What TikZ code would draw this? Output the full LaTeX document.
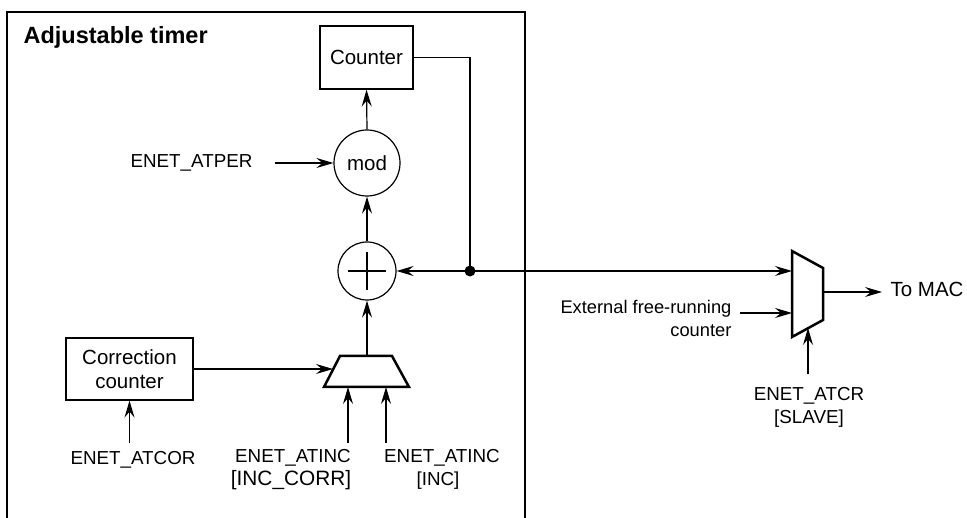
\documentclass[tikz,border=0pt]{standalone}
\usepackage{fontspec}
\setmainfont{Liberation Sans}
\usetikzlibrary{arrows.meta}
\begin{document}
\begin{tikzpicture}[x=1pt,y=-1pt,
  line width=1.2pt,
  arr/.style={-{Stealth[length=17pt,width=10pt,inset=6pt]}},
  lbl/.style={font=\fontsize{18.8}{22}\selectfont, inner sep=0pt, align=center},
  boxtxt/.style={font=\fontsize{20.5}{23}\selectfont},
  box/.style={draw, line width=1.2pt, inner sep=0pt, align=center, boxtxt},
  circ/.style={draw, circle, line width=1.2pt, inner sep=0pt, boxtxt},
  mux/.style={line width=2.5pt, line join=miter}
]
\useasboundingbox (0,0) rectangle (967,518);
% outer frame
\draw (7,518) -- (7,12) -- (525,12) -- (525,518);
\node[anchor=base west, inner sep=0pt, font=\fontsize{23.5}{26}\selectfont\bfseries] (title) at (23,44) {Adjustable timer};

% main blocks
\node[box, minimum width=93pt, minimum height=63pt] (counter) at (366.5,57.5) {Counter};
\node[circ, minimum size=66pt] (mod) at (367,163) {mod};
\node[circ, minimum size=58pt] (plus) at (367,271) {};
\draw (plus.center) ++(-19,0) -- ++(38,0);
\draw (plus.center) ++(0,-19) -- ++(0,38);
\node[box, minimum width=127pt, minimum height=62pt, text width=120pt, font=\fontsize{20.5}{24}\selectfont] (corr) at (129.5,369) {Correction\\counter};

% bottom mux
\coordinate (b1) at (324,387);
\coordinate (b2) at (340,356);
\coordinate (b3) at (392,356);
\coordinate (b4) at (409,387);
\draw[mux] (b1) -- (b2) -- (b3) -- (b4) -- cycle;
\coordinate (bout) at (367,356);
\coordinate (bin) at (333,369);
\coordinate (bi1) at (348,387);
\coordinate (bi2) at (386,387);

% right mux
\coordinate (m1) at (792,251);
\coordinate (m2) at (823,268);
\coordinate (m3) at (823,320);
\coordinate (m4) at (792,337);
\draw[mux] (m1) -- (m2) -- (m3) -- (m4) -- cycle;
\coordinate (min1) at (792,271);
\coordinate (min2) at (792,313);
\coordinate (mout) at (823,292);
\coordinate (msel) at (808,328);

% labels
\node[lbl] (atper) at (191.5,163) {ENET\_ATPER};
\coordinate (atperS) at (275,163);
\node[lbl] (atcor) at (133,460) {ENET\_ATCOR};
\coordinate (atcorS) at (129.5,443);
\node[lbl, anchor=north] (inccorr1) at (293,449) {ENET\_ATINC};
\node[lbl, anchor=north, font=\fontsize{20.8}{23}\selectfont] (inccorr2) at (291,470) {[INC\_CORR]};
\coordinate (i1S) at (348,443);
\node[lbl, anchor=north] (inc1) at (442,449) {ENET\_ATINC};
\node[lbl, anchor=north] (inc2) at (438,471) {[INC]};
\coordinate (i2S) at (386,443);
\node[lbl, anchor=east, align=right, font=\fontsize{18.3}{23}\selectfont] (ext) at (732,318) {External free-running\\counter};
\coordinate (extS) at (740,313);
\node[lbl, anchor=north] (atcr1) at (809,387) {ENET\_ATCR};
\node[lbl, anchor=north] (atcr2) at (809,409) {[SLAVE]};
\coordinate (atcrS) at (808,374);
\node[lbl, anchor=west, font=\fontsize{20.5}{23}\selectfont] (tomac) at (890,289) {To MAC};
\coordinate (macE) at (882,292);

% connectors
\coordinate (fbTop) at (470,57.5);
\coordinate (dot) at (470,271);
\draw (counter.east) -- (fbTop) -- (dot);
\fill (dot) circle (5.5pt);
\draw[arr] (dot) -- (plus.east);
\draw[arr] (dot) -- (min1);
\draw[arr] (mod.north) -- (counter.south);
\draw[arr] (plus.north) -- (mod.south);
\draw[arr] (bout) -- (plus.south);
\draw[arr] (atperS) -- (mod.west);
\draw[arr] (corr.east) -- (bin);
\draw[arr] (atcorS) -- (corr.south);
\draw[arr] (i1S) -- (bi1);
\draw[arr] (i2S) -- (bi2);
\draw[arr] (extS) -- (min2);
\draw[arr] (atcrS) -- (msel);
\draw[arr] (mout) -- (macE);
\end{tikzpicture}
\end{document}
